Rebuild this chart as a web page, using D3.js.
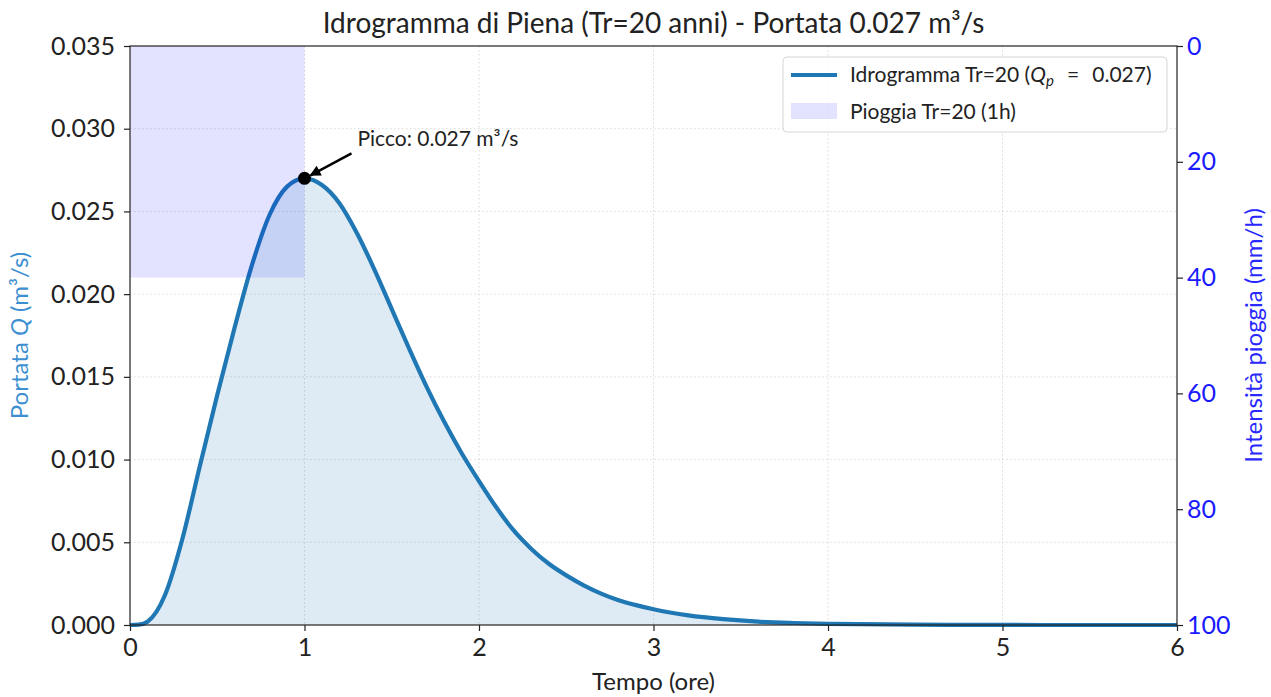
<!DOCTYPE html>
<html>
<head>
<meta charset="utf-8">
<script src="https://cdn.jsdelivr.net/npm/d3@7"></script>
<style>
  body { margin: 0; background: #fff; }
  svg text { font-family: Lato, "DejaVu Sans", sans-serif; fill: #222; }
</style>
</head>
<body>
<div id="chart"></div>
<script>
// Hydrograph (t in hours, Q in m3/s)
var tempo = [0, 0.05, 0.1, 0.2, 0.3, 0.4, 0.5, 0.6, 0.7, 0.8, 0.9,
             1.0, 1.1, 1.2, 1.3, 1.4, 1.5, 1.6, 1.7, 1.8, 1.9,
             2.0, 2.1, 2.2, 2.3, 2.4, 2.5, 2.6, 2.7, 2.8, 2.9,
             3.0, 3.2, 3.4, 3.6, 3.8, 4.0, 4.5, 5.0, 5.5, 6.0];
var portata = [0, 0.00002, 0.0002, 0.0018, 0.0052, 0.0096, 0.0139, 0.0180, 0.0218, 0.0248, 0.0265,
               0.0270, 0.0266, 0.0255, 0.0237, 0.0215, 0.0191, 0.0167, 0.0144, 0.0123, 0.0104,
               0.0087, 0.0071, 0.0057, 0.0046, 0.0037, 0.0030, 0.0024, 0.0019, 0.0015, 0.0012,
               0.00095, 0.00058, 0.00035, 0.0002, 0.00012, 0.00007, 0.00002, 0.000005, 0, 0];

// Rain block
var pioggiaInizio = [0];
var pioggiaFine = [1];
var pioggiaIntensita = [40];

// Peak
var piccoT = 1.0;
var piccoQ = 0.027;

var xTicks = [0, 1, 2, 3, 4, 5, 6];
var yTicks = [0, 0.005, 0.01, 0.015, 0.02, 0.025, 0.03, 0.035];
var y2Ticks = [0, 20, 40, 60, 80, 100];

var W = 1271, H = 697;
var m = {left: 130, right: W - 1177, top: 46, bottom: H - 625};
var pw = W - m.left - m.right, ph = H - m.top - m.bottom;

var svg = d3.select('#chart').append('svg').attr('width', W).attr('height', H);
var g = svg.append('g').attr('transform', 'translate(' + m.left + ',' + m.top + ')');

var x = d3.scaleLinear().domain([0, 6]).range([0, pw]);
var y = d3.scaleLinear().domain([0, 0.035]).range([ph, 0]);
var y2 = d3.scaleLinear().domain([0, 100]).range([0, ph]);

// grid
g.append('g').selectAll('line').data(xTicks.slice(1, -1)).enter().append('line')
  .attr('x1', d => x(d)).attr('x2', d => x(d)).attr('y1', 0).attr('y2', ph)
  .style('stroke', '#cfcfcf').style('stroke-width', 0.8).style('stroke-dasharray', '1.5,2.5');
g.append('g').selectAll('line').data(yTicks.slice(1, -1)).enter().append('line')
  .attr('x1', 0).attr('x2', pw).attr('y1', d => y(d)).attr('y2', d => y(d))
  .style('stroke', '#cfcfcf').style('stroke-width', 0.8).style('stroke-dasharray', '1.5,2.5');

var dati = tempo.map((t, i) => ({t: t, q: portata[i]}));

// area + line
g.append('path').datum(dati)
  .attr('d', d3.area().x(d => x(d.t)).y0(y(0)).y1(d => y(d.q)).curve(d3.curveMonotoneX))
  .style('fill', '#1f77b4').style('fill-opacity', 0.15);
g.append('path').datum(dati)
  .attr('d', d3.line().x(d => x(d.t)).y(d => y(d.q)).curve(d3.curveMonotoneX))
  .style('fill', 'none').style('stroke', '#1f77b4').style('stroke-width', 4.2);

// rain bar (on top, like the twin axis)
g.append('g').selectAll('rect').data(pioggiaIntensita).enter().append('rect')
  .attr('x', (d, i) => x(pioggiaInizio[i]))
  .attr('width', (d, i) => x(pioggiaFine[i]) - x(pioggiaInizio[i]))
  .attr('y', y2(0)).attr('height', d => y2(d))
  .style('fill', 'blue').style('fill-opacity', 0.11);

// peak marker + annotation
svg.append('defs').append('marker').attr('id', 'arrow')
  .attr('viewBox', '0 0 10 10').attr('refX', 9).attr('refY', 5)
  .attr('markerWidth', 15).attr('markerHeight', 11).attr('markerUnits', 'userSpaceOnUse')
  .attr('orient', 'auto')
  .append('path').attr('d', 'M0,0 L10,5 L0,10 z').style('fill', '#000');
var px = x(piccoT), py = y(piccoQ);
g.append('line').attr('x1', px + 47).attr('y1', py - 25).attr('x2', px + 6).attr('y2', py - 3)
  .style('stroke', '#000').style('stroke-width', 2.4).attr('marker-end', 'url(#arrow)');
g.append('circle').attr('cx', px).attr('cy', py).attr('r', 6.5).style('fill', '#000');
g.append('text').attr('x', px + 53).attr('y', py - 32).style('font-size', '21px')
  .text('Picco: ' + piccoQ.toFixed(3) + ' m³/s');

// axes
var ax = g.append('g').attr('transform', 'translate(0,' + ph + ')')
  .call(d3.axisBottom(x).tickValues(xTicks).tickFormat(d3.format('d')).tickSize(6).tickPadding(7));
var ay = g.append('g')
  .call(d3.axisLeft(y).tickValues(yTicks).tickFormat(d3.format('.3f')).tickSize(6).tickPadding(9));
var ay2 = g.append('g').attr('transform', 'translate(' + pw + ',0)')
  .call(d3.axisRight(y2).tickValues(y2Ticks).tickFormat(d3.format('d')).tickSize(6).tickPadding(4));
[ax, ay, ay2].forEach(a => {
  a.select('.domain').remove();
  a.selectAll('line').style('stroke', '#222').style('stroke-width', 1.2);
  a.selectAll('text').style('font-size', '25px');
});
ay2.selectAll('text').style('fill', '#1a1aff');

// frame
g.append('rect').attr('width', pw).attr('height', ph)
  .style('fill', 'none').style('stroke', '#222').style('stroke-width', 1.2);

// labels
svg.append('text').attr('x', m.left + pw / 2).attr('y', 33).attr('text-anchor', 'middle')
  .style('font-size', '28px').text('Idrogramma di Piena (Tr=20 anni) - Portata 0.027 m³/s');
svg.append('text').attr('x', m.left + pw / 2).attr('y', 690).attr('text-anchor', 'middle')
  .style('font-size', '24px').text('Tempo (ore)');
var yl = svg.append('text').attr('transform', 'translate(28,' + (m.top + ph / 2) + ') rotate(-90)')
  .attr('text-anchor', 'middle').style('font-size', '24px').style('fill', '#3d8fd1');
yl.append('tspan').text('Portata ').style('fill', '#3d8fd1');
yl.append('tspan').text('Q').style('font-style', 'italic').style('fill', '#3d8fd1');
yl.append('tspan').text(' (m³/s)').style('fill', '#3d8fd1');
svg.append('text').attr('transform', 'translate(1262,' + (m.top + ph / 2) + ') rotate(-90)')
  .attr('text-anchor', 'middle').style('font-size', '24px').style('fill', '#2828ff')
  .text('Intensità pioggia (mm/h)');

// legend
var lg = svg.append('g').attr('transform', 'translate(783,57)');
lg.append('rect').attr('width', 384).attr('height', 75).attr('rx', 4)
  .style('fill', '#fff').style('fill-opacity', 0.85).style('stroke', '#d6d6d6');
lg.append('line').attr('x1', 8).attr('x2', 54).attr('y1', 18).attr('y2', 18)
  .style('stroke', '#1f77b4').style('stroke-width', 4.2);
var lt = lg.append('text').attr('x', 67).attr('y', 25).style('font-size', '21px');
lt.append('tspan').text('Idrogramma Tr=20 (');
lt.append('tspan').text('Q').style('font-style', 'italic');
lt.append('tspan').text('p').style('font-style', 'italic').style('font-size', '15px').attr('dy', 4);
lt.append('tspan').text('\u2002\u2009=\u2002\u2009' + piccoQ.toFixed(3) + ')').attr('dy', -4);
lg.append('rect').attr('x', 8).attr('y', 46).attr('width', 46).attr('height', 16)
  .style('fill', 'blue').style('fill-opacity', 0.11);
lg.append('text').attr('x', 67).attr('y', 62).style('font-size', '21px').text('Pioggia Tr=20 (1h)');
</script>
</body>
</html>
